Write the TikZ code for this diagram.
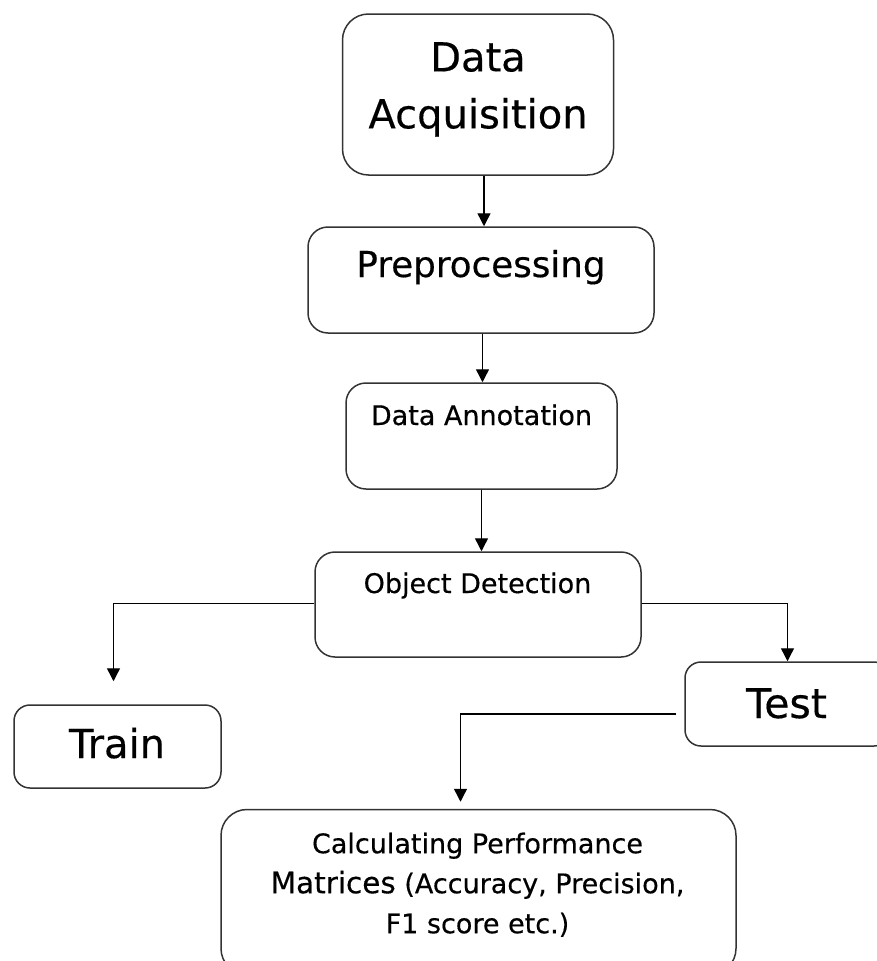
\documentclass[tikz,border=0pt]{standalone}
\usepackage{fontspec}
\setmainfont[FakeBold=0.4]{DejaVu Sans}
\usetikzlibrary{arrows.meta, positioning}

\begin{document}
\begin{tikzpicture}[x=1pt, y=-1pt]
        % Setup the style for the boxes
        \tikzset{box style/.style={rectangle,
                                   rounded corners=20pt,
                                   draw=black!80,
                                   line width=1.5pt,
                                   inner sep=0pt}}
        \tikzset{title style/.style={inner sep=0pt,
                                     anchor=base,
                                     text=black}}
        \tikzset{arrow style/.style={line width=1.4pt,
                                     draw=black,
                                     -{Triangle[width=13pt,length=13pt]}}}

        \useasboundingbox (0,0) rectangle (876,961);

        % Draw the boxes
        \node[box style, rounded corners=26pt, minimum width=271pt, minimum height=161pt] at (478, 94.5)  (acq)    {};
        \node[box style, minimum width=346pt, minimum height=106pt] at (481, 280)   (prep)   {};
        \node[box style, minimum width=271pt, minimum height=106pt] at (481.5, 436) (annot)  {};
        \node[box style, minimum width=326pt, minimum height=105pt] at (478, 604.5) (objdet) {};
        \node[box style, rounded corners=16pt, minimum width=207pt, minimum height=83pt] at (117.5, 746.5) (train) {};
        \node[box style, rounded corners=16pt, minimum width=205pt, minimum height=84pt] at (787.5, 704) (test) {};
        \node[box style, rounded corners=26pt, minimum width=515pt, minimum height=165pt] at (478.5, 892) (calc) {};

        % Write the texts
        \node[title style, anchor=north, align=center, font=\fontsize{40}{57}\selectfont]
            at (478, 42) (acqtext) {Data\\Acquisition};
        \node[title style, font=\fontsize{35.7}{42}\selectfont] at (481, 277) (preptext) {Preprocessing};
        \node[title style, font=\fontsize{27}{32}\selectfont] at (481.5, 425) (annottext) {Data Annotation};
        \node[title style, font=\fontsize{27}{32}\selectfont] at (477.5, 593) (objdettext) {Object Detection};
        \node[title style, font=\fontsize{40}{46}\selectfont] at (117, 758) (traintext) {Train};
        \node[title style, font=\fontsize{41}{46}\selectfont] at (786.5, 718) (testtext) {Test};
        \node[title style, anchor=north, align=center, font=\fontsize{27}{40}\selectfont]
            at (477.5, 832.5) (calctext)
            {Calculating Performance\\{\fontsize{29.5}{40}\selectfont Matrices} (Accuracy, Precision,\\F1 score etc.)};

        % Connect the boxes with arrows
        \draw[arrow style] ([xshift=6pt]acq.south) -- ([xshift=6pt]acq.south |- prep.north);
        \draw[arrow style] (prep.south -| 482.5,0) -- (annot.north -| 482.5,0);
        \draw[arrow style] (annot.south) -- (annot.south |- objdet.north);
        \draw[arrow style, shorten >=23pt] ([yshift=1pt]objdet.west) -| ([xshift=-4pt]train.north);
        \draw[arrow style] ([yshift=1pt]objdet.east) -| (test.north);
        \draw[arrow style, shorten <=8pt, shorten >=7pt] ([yshift=-10pt]test.west) -| ([xshift=-18pt]calc.north);
\end{tikzpicture}
\end{document}
